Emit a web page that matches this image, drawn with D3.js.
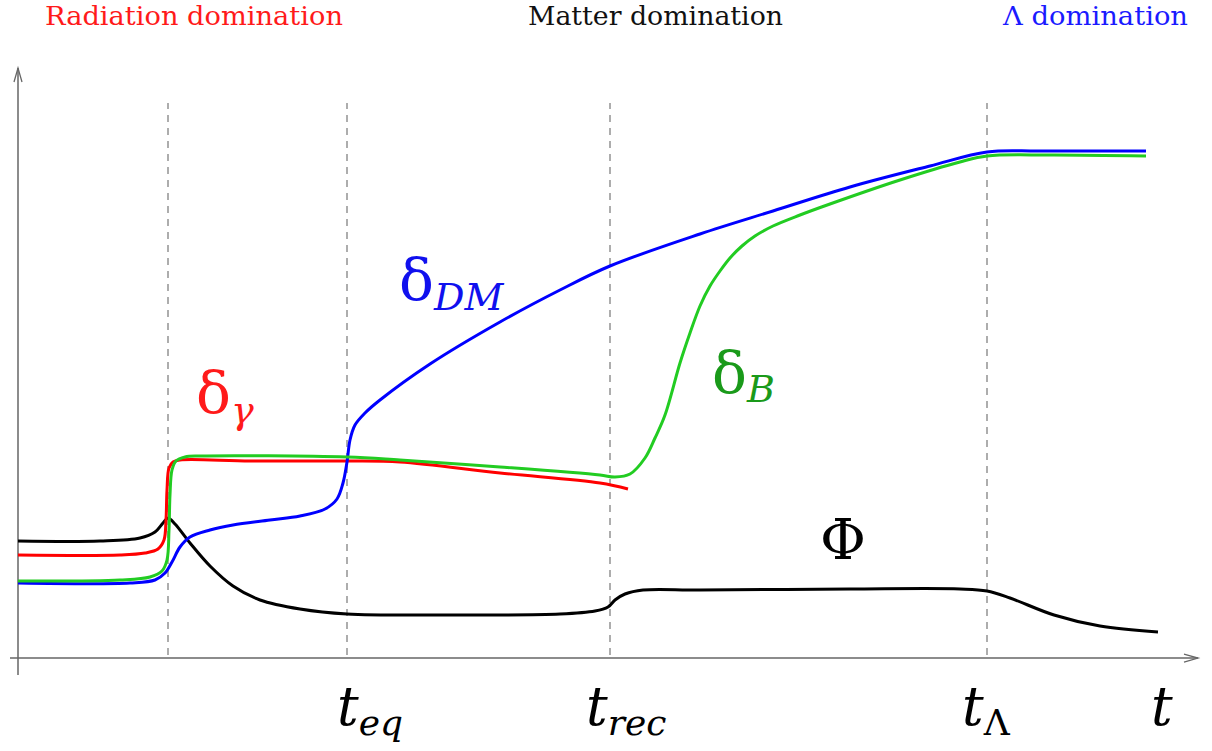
<!DOCTYPE html>
<html>
<head>
<meta charset="utf-8">
<script src="https://cdn.jsdelivr.net/npm/d3@7"></script>
<style>
  body { margin: 0; background: #fff; }
  svg text { font-family: "DejaVu Serif"; }
</style>
</head>
<body>
<div id="container"></div>
<script>
// values: t = horizontal, v = amplitude (arbitrary units)
const phiT   = [0, 8.2, 12.2, 13.7, 14.5, 15.0, 15.7, 17.2, 19.2, 21.5, 24.2, 28.2, 32.9, 43.2, 54.2, 57.7, 59.0, 59.7, 60.7, 62.5, 68.2, 83.2, 94.2, 96.9, 99.2, 103.6, 108.2, 114.0];
const phiV   = [11.7, 11.7, 12.0, 12.6, 13.5, 14.0, 13.4, 11.5, 9.2, 7.2, 5.8, 4.9, 4.4, 4.3, 4.4, 4.7, 5.1, 5.8, 6.4, 6.8, 6.8, 6.9, 6.9, 6.7, 6.0, 4.3, 3.2, 2.6];

const gammaT = [0, 10.2, 12.7, 14.0, 14.6, 14.8, 14.9, 15.1, 15.5, 16.2, 23.2, 32.9, 38.2, 48.2, 58.2, 61.0];
const gammaV = [10.3, 10.3, 10.5, 10.9, 11.8, 13.8, 16.8, 19.0, 19.6, 19.8, 19.7, 19.7, 19.6, 18.5, 17.5, 16.9];

const baryonT = [0, 10.2, 13.2, 14.4, 14.9, 15.1, 15.2, 15.4, 15.8, 16.7, 18.2, 32.9, 38.2, 48.2, 58.2, 59.7, 61.2, 62.7, 63.7, 64.7, 66.2, 67.2, 68.2, 69.2, 70.2, 71.2, 72.4, 73.7, 75.5, 78.2, 81.2, 88.2, 94.2, 96.9, 103.2, 112.8];
const baryonV = [7.7, 7.8, 8.1, 8.7, 9.8, 12.8, 16.3, 18.8, 19.7, 20.1, 20.2, 20.1, 19.8, 19.1, 18.3, 18.1, 18.4, 20.0, 22.0, 24.3, 29.5, 32.5, 35.2, 37.2, 38.7, 40.0, 41.2, 42.2, 43.2, 44.3, 45.4, 47.8, 49.6, 50.2, 50.3, 50.2];

const dmT = [0, 11.2, 13.7, 14.7, 15.4, 16.2, 17.2, 19.2, 21.5, 25.2, 28.2, 30.7, 31.9, 32.5, 32.9, 33.2, 33.7, 34.7, 36.2, 41.2, 48.2, 54.2, 59.2, 68.2, 75.5, 83.2, 91.2, 96.9, 102.2, 112.8];
const dmV = [7.5, 7.5, 7.8, 8.5, 9.6, 11.1, 12.1, 12.8, 13.3, 13.8, 14.2, 14.9, 15.9, 17.5, 19.6, 21.8, 23.3, 24.5, 25.8, 29.4, 33.6, 36.8, 39.2, 42.4, 44.7, 47.1, 49.2, 50.6, 50.7, 50.7];

// epochs (dashed lines) and their labels
const epochT    = [15.0, 32.9, 59.2, 96.9];
const tickNames = ["eq", "rec", "Λ"];
const tickAt    = [32.9, 59.2, 96.9];

const eraNames  = ["Radiation domination", "Matter domination", "Λ domination"];

const width = 1212, height = 751;

const x = d3.scaleLinear().domain([0, 118]).range([18, 1198]);
const y = d3.scaleLinear().domain([0, 59]).range([658, 68]);

const svg = d3.select("#container")
    .append("svg")
    .attr("width", width)
    .attr("height", height);

// era titles
const eraX = [45, 528, 1003];
const eraW = [298, 255, 185];
const eraC = ["#ff1a1a", "#111", "#1a1aff"];
svg.selectAll("text.era")
    .data(eraNames)
    .enter()
    .append("text")
    .attr("class", "era")
    .attr("x", (d, i) => eraX[i])
    .attr("y", 25)
    .attr("font-size", 26)
    .attr("textLength", (d, i) => eraW[i])
    .attr("lengthAdjust", "spacingAndGlyphs")
    .attr("fill", (d, i) => eraC[i])
    .text(d => d);

// dashed epoch lines
svg.selectAll("line.epoch")
    .data(epochT)
    .enter()
    .append("line")
    .attr("class", "epoch")
    .attr("x1", d => x(d)).attr("x2", d => x(d))
    .attr("y1", y(0.3)).attr("y2", y(55.5))
    .attr("stroke", "#777")
    .attr("stroke-width", 1.2)
    .attr("stroke-dasharray", "7,6");

// axes
const axisCol = "#666";
svg.append("line")
    .attr("x1", x(0)).attr("x2", x(0))
    .attr("y1", y(-1.7)).attr("y2", y(59))
    .attr("stroke", axisCol).attr("stroke-width", 1.5);
svg.append("line")
    .attr("x1", x(-0.8)).attr("x2", x(118))
    .attr("y1", y(0)).attr("y2", y(0))
    .attr("stroke", axisCol).attr("stroke-width", 1.5);
// arrow heads
svg.append("path")
    .attr("d", `M${x(0) - 4},${y(59) + 14} L${x(0)},${y(59)} L${x(0) + 4},${y(59) + 14}`)
    .attr("fill", "none").attr("stroke", axisCol).attr("stroke-width", 1.3);
svg.append("path")
    .attr("d", `M${x(118) - 14},${y(0) - 4} L${x(118)},${y(0)} L${x(118) - 14},${y(0) + 4}`)
    .attr("fill", "none").attr("stroke", axisCol).attr("stroke-width", 1.3);

// curves
const line = d3.line()
    .x(d => x(d[0]))
    .y(d => y(d[1]))
    .curve(d3.curveCatmullRom.alpha(0.5));

const series = [
    { t: phiT, v: phiV, color: "#000" },
    { t: gammaT, v: gammaV, color: "#ff0000" },
    { t: dmT, v: dmV, color: "#0000ff" },
    { t: baryonT, v: baryonV, color: "#22cc22" }
];
series.forEach(s => {
    svg.append("path")
        .datum(d3.zip(s.t, s.v))
        .attr("d", line)
        .attr("fill", "none")
        .attr("stroke", s.color)
        .attr("stroke-width", 3)
        .attr("stroke-linejoin", "round")
        .attr("stroke-linecap", "butt");
});

// curve labels
function deltaLabel(px, py, sub, color, subDy, subSize) {
    const t = svg.append("text")
        .attr("x", px).attr("y", py)
        .attr("fill", color);
    t.append("tspan").attr("font-size", 58).text("δ");
    t.append("tspan").attr("font-size", subSize).attr("font-style", "italic")
        .attr("dy", subDy).text(sub);
}
deltaLabel(399, 300, "DM", "#1010ee", 10, 38);
deltaLabel(196, 413, "γ", "#ff1a1a", 10, 38);
deltaLabel(712, 393, "B", "#1a9a1a", 9, 38);

svg.append("text")
    .attr("x", 820).attr("y", 559)
    .attr("font-size", 56)
    .attr("fill", "#000")
    .text("Φ");

// time labels under the axis
tickNames.forEach((name, i) => {
    const offs = [-10, -24, -25][i];
    const t = svg.append("text")
        .attr("x", x(tickAt[i]) + offs).attr("y", 725)
        .attr("fill", "#000");
    t.append("tspan").attr("font-size", 54).attr("font-style", "italic").text("t");
    t.append("tspan").attr("font-size", 36).attr("font-style", i === 2 ? "normal" : "italic")
        .attr("dy", 10).text(name);
});
svg.append("text")
    .attr("x", x(113.3)).attr("y", 725)
    .attr("font-size", 54).attr("font-style", "italic")
    .attr("fill", "#000")
    .text("t");
</script>
</body>
</html>
